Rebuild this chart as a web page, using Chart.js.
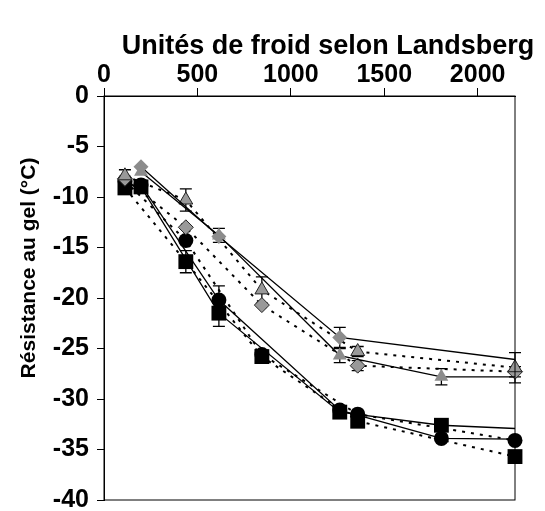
<!DOCTYPE html>
<html lang="fr">
<head>
    <meta charset="UTF-8">
    <title>Résistance au gel</title>
    <script src="https://cdn.jsdelivr.net/npm/chart.js"></script>
    <style>
        html, body { margin: 0; padding: 0; background: #fff; }
        #wrap { width: 545px; height: 511px; }
    </style>
</head>
<body>
    <div id="wrap"><canvas id="gel"></canvas></div>

    <script>
        // Landsberg chill units at each sampling date (two series of dates)
        const unitsA = [198, 615, 1262, 1806, 2420];
        const unitsB = [112, 438, 845, 1358, 2200];

        // frost hardiness (°C), solid-line group (dates A)
        const triA = [-7.5, -13.8, -25.7, -27.8, -27.8];
        const diaA = [-7.0, -13.9, -23.9, null, -26.6];
        const cirA = [-8.8, -20.2, -31.1, -33.9, -34.0];
        const sqA  = [-9.0, -21.5, -31.3, -32.6, -33.1];

        // frost hardiness (°C), dotted-line group (dates B)
        const triB = [-7.9, -10.3, -19.2, -25.3, -26.9];
        const diaB = [-8.2, -13.0, -20.7, -26.7, -27.3];
        const cirB = [-8.4, -14.3, -25.6, -31.5, -34.1];
        const sqB  = [-9.1, -16.4, -25.8, -32.2, -35.7];

        // standard errors
        const errTriA = [0, 0.7, 0.7, 0.8, 0];
        const errDiaA = [0, 0, 1.0, 0, 0];
        const errCirA = [0, 1.4, 0, 0, 0];
        const errSqA  = [0, 1.3, 0, 0, 0];
        const errTriB = [0, 1.1, 1.3, 0.5, 1.5];
        const errDiaB = [0, 0, 0, 0.5, 0.5];
        const errCirB = [1.1, 0, 0, 0, 0];
        const errSqB  = [0, 1.1, 0, 0, 0];

        const xTicks = [0, 500, 1000, 1500, 2000];
        const yTicks = [0, -5, -10, -15, -20, -25, -30, -35, -40];

        const FONT = 'Liberation Sans, Arial, sans-serif';

        function pts(xs, ys) {
            return xs.map((x, i) => ({ x: x, y: ys[i] }));
        }

        function series(xs, ys, errs, style, dotted) {
            return {
                data: pts(xs, ys),
                errs: errs,
                showLine: true,
                spanGaps: true,
                borderColor: '#000',
                borderWidth: dotted ? 2 : 1.3,
                borderDash: dotted ? [3, 6] : [],
                pointStyle: style.shape,
                pointRadius: style.r,
                pointBackgroundColor: style.fill,
                pointBorderColor: style.edge,
                pointBorderWidth: style.edgeW,
                clip: dotted ? false : 0
            };
        }

        const plainTri = { shape: 'triangle', r: 8, fill: '#8c8c8c', edge: '#8c8c8c', edgeW: 0 };
        const plainDia = { shape: 'rectRot', r: 7.5, fill: '#8c8c8c', edge: '#8c8c8c', edgeW: 0 };
        const edgeTri  = { shape: 'triangle', r: 8, fill: '#999', edge: '#222', edgeW: 1 };
        const edgeDia  = { shape: 'rectRot', r: 7.5, fill: '#999', edge: '#222', edgeW: 1 };
        const blackCir = { shape: 'circle', r: 7.5, fill: '#000', edge: '#000', edgeW: 0 };
        const blackSq  = { shape: 'rect', r: 10.5, fill: '#000', edge: '#000', edgeW: 0 };

        // error bars + frame + titles
        const extras = {
            id: 'extras',
            beforeDatasetsDraw(chart) {
                const ctx = chart.ctx, xs = chart.scales.x, ys = chart.scales.y;
                ctx.save();
                ctx.strokeStyle = '#000';
                ctx.lineWidth = 1.3;
                chart.data.datasets.forEach(ds => {
                    ds.data.forEach((p, i) => {
                        const e = ds.errs[i];
                        if (!e || p.y === null) return;
                        const px = xs.getPixelForValue(p.x);
                        const top = ys.getPixelForValue(p.y + e);
                        const bot = ys.getPixelForValue(p.y - e);
                        ctx.beginPath();
                        ctx.moveTo(px, top); ctx.lineTo(px, bot);
                        ctx.moveTo(px - 6, top); ctx.lineTo(px + 6, top);
                        ctx.moveTo(px - 6, bot); ctx.lineTo(px + 6, bot);
                        ctx.stroke();
                    });
                });
                ctx.restore();
            },
            afterDraw(chart) {
                const ctx = chart.ctx, a = chart.chartArea;
                ctx.save();
                ctx.strokeStyle = '#000';
                ctx.lineWidth = 1;
                ctx.strokeRect(a.left, a.top, a.right - a.left, a.bottom - a.top);
                ctx.fillStyle = '#000';
                ctx.textAlign = 'center';
                ctx.textBaseline = 'middle';
                ctx.font = 'bold 27px ' + FONT;
                ctx.fillText('Unités de froid selon Landsberg', 328, 47);
                ctx.font = 'bold 21px ' + FONT;
                ctx.translate(29, 268);
                ctx.rotate(-Math.PI / 2);
                ctx.fillText('Résistance au gel (°C)', 0, 0);
                ctx.restore();
            }
        };

        new Chart(document.getElementById('gel'), {
            type: 'scatter',
            data: {
                datasets: [
                    series(unitsA, triA, errTriA, plainTri, false),
                    series(unitsA, diaA, errDiaA, plainDia, false),
                    series(unitsA, cirA, errCirA, blackCir, false),
                    series(unitsA, sqA, errSqA, blackSq, false),
                    series(unitsB, triB, errTriB, edgeTri, true),
                    series(unitsB, diaB, errDiaB, edgeDia, true),
                    series(unitsB, cirB, errCirB, blackCir, true),
                    series(unitsB, sqB, errSqB, blackSq, true)
                ]
            },
            options: {
                responsive: true,
                maintainAspectRatio: false,
                animation: false,
                layout: { padding: { left: 0, top: 0, right: 30, bottom: 11 } },
                plugins: {
                    legend: { display: false },
                    tooltip: { enabled: false }
                },
                scales: {
                    x: {
                        type: 'linear',
                        position: 'top',
                        min: 0,
                        max: 2200,
                        afterFit(s) {
                            s.height = 96;
                            s.paddingLeft = 0;
                            s.paddingRight = 0;
                        },
                        afterBuildTicks(s) { s.ticks = xTicks.map(v => ({ value: v })); },
                        ticks: {
                            color: '#000',
                            padding: -2,
                            maxRotation: 0,
                            callback: v => String(v),
                            font: { family: FONT, size: 25, weight: 'bold' }
                        },
                        grid: { drawOnChartArea: false, drawTicks: true, tickLength: 8, color: '#000' },
                        border: { color: '#000', width: 1 }
                    },
                    y: {
                        type: 'linear',
                        min: -40,
                        max: 0,
                        afterFit(s) {
                            s.width = 104;
                            s.paddingTop = 0;
                            s.paddingBottom = 0;
                        },
                        afterBuildTicks(s) { s.ticks = yTicks.map(v => ({ value: v })); },
                        ticks: {
                            color: '#000',
                            padding: 8,
                            callback: v => String(v),
                            font: { family: FONT, size: 25, weight: 'bold' }
                        },
                        grid: { drawOnChartArea: false, drawTicks: true, tickLength: 7, color: '#000' },
                        border: { color: '#000', width: 1 }
                    }
                }
            },
            plugins: [extras]
        });
    </script>
</body>
</html>
